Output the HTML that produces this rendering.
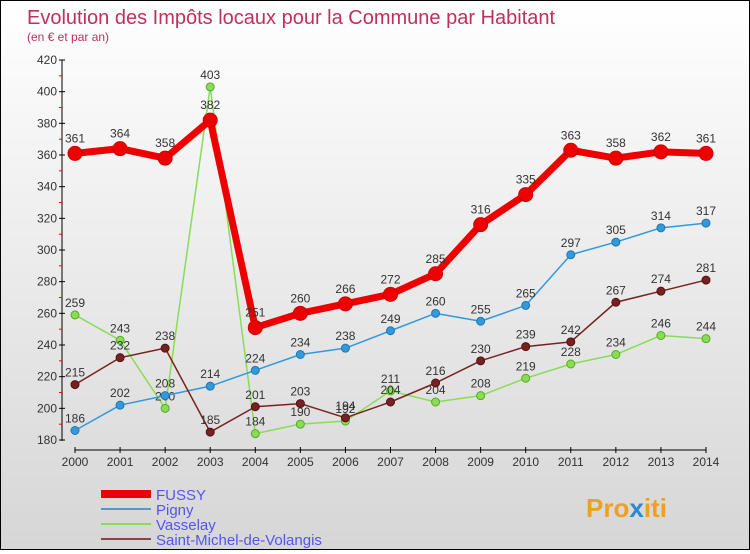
<!DOCTYPE html>
<html><head><meta charset="utf-8"><style>
html,body{margin:0;padding:0}
body{width:750px;height:550px;overflow:hidden;font-family:"Liberation Sans","DejaVu Sans",sans-serif}
#wrap{position:relative;width:748px;height:548px;border:1px solid #000;background:linear-gradient(#ffffff,#d6d6d6)}
</style></head><body>
<div id="wrap">
<svg id="chart" width="748" height="548" xmlns="http://www.w3.org/2000/svg">
<text x="26" y="23" font-size="20" fill="#c0305a">Evolution des Impôts locaux pour la Commune par Habitant</text>
<text x="26" y="40" font-size="12" fill="#c0305a">(en € et par an)</text>
<text x="585" y="516" font-size="26" font-weight="bold" fill="#f0a020">Pro<tspan fill="#2a8ad0">x</tspan>iti</text>
</svg>
</div>
<script>
const years=[2000,2001,2002,2003,2004,2005,2006,2007,2008,2009,2010,2011,2012,2013,2014];
const yTicks=[180,200,220,240,260,280,300,320,340,360,380,400,420];
const fussy=[361,364,358,382,251,260,266,272,285,316,335,363,358,362,361];
const pigny=[186,202,208,214,224,234,238,249,260,255,265,297,305,314,317];
const vasselay=[259,243,200,403,184,190,192,211,204,208,219,228,234,246,244];
const stmichel=[215,232,238,185,201,203,194,204,216,230,239,242,267,274,281];
const seriesNames=["FUSSY","Pigny","Vasselay","Saint-Michel-de-Volangis"];
const NS="http://www.w3.org/2000/svg";
const svg=document.getElementById('chart');
const X=i=>74+i*(631/14);
const Y=v=>439-(v-180)*(380/240);
function mk(t,a,p){const e=document.createElementNS(NS,t);for(const k in a)e.setAttribute(k,a[k]);(p||svg).appendChild(e);return e;}
// axes
const ax=mk('line',{x1:61,y1:59,x2:61,y2:440,stroke:'#000'});


const bx=mk('line',{x1:74,y1:449,x2:705,y2:449,stroke:'#000'});


yTicks.forEach((v,i)=>{
  mk('line',{x1:58,y1:Y(v),x2:64,y2:Y(v),stroke:'#000'});
  if(i<yTicks.length-1)mk('line',{x1:58,y1:Y(v+10),x2:61,y2:Y(v+10),stroke:'#f00'});
  const t=mk('text',{x:56,y:Y(v)+4,'font-size':12,'text-anchor':'end',fill:'#333'});t.textContent=v;
  
  
});
years.forEach((y,i)=>{
  mk('line',{x1:X(i),y1:446,x2:X(i),y2:452,stroke:'#000'});
  const t=mk('text',{x:X(i),y:465,'font-size':12,'text-anchor':'middle',fill:'#333'});t.textContent=y;
  
  
});
function series(data,color,dark,w,r,name){
  const g=mk('g',{});
  
  
  mk('polyline',{points:data.map((v,i)=>X(i)+','+Y(v)).join(' '),fill:'none',stroke:color,'stroke-width':w,'stroke-linejoin':'round'},g);
  data.forEach((v,i)=>{
    const c=mk('circle',{cx:X(i),cy:Y(v),r:r,fill:color,stroke:dark,'stroke-width':1},g);
    
    
    const t=mk('text',{x:X(i),y:Y(v)-8-(r>5?3:0),'font-size':12,'text-anchor':'middle',fill:'#333'},g);t.textContent=v;
  });
}
series(vasselay,'#88dd55','#55aa22',1.5,4,'vasselay-series');
series(pigny,'#3399dd','#2277aa',1.5,4,'pigny-series');
series(stmichel,'#772222','#551111',1.5,4,'saint-michel-series');
series(fussy,'#ee0000','#cc0000',7,7,'fussy-series');
// legend
const lc=['#ee0000','#5599cc','#88dd55','#884444'],lw=[8,2,2,2];
seriesNames.forEach((n,i)=>{
  const y=493+i*15;
  const l=mk('line',{x1:100,y1:y,x2:150,y2:y,stroke:lc[i],'stroke-width':lw[i]});
  
  
  const t=mk('text',{x:155,y:y+6,'font-size':15,fill:'#5555ee'});t.textContent=n;
  
  
});
</script>
</body></html>
